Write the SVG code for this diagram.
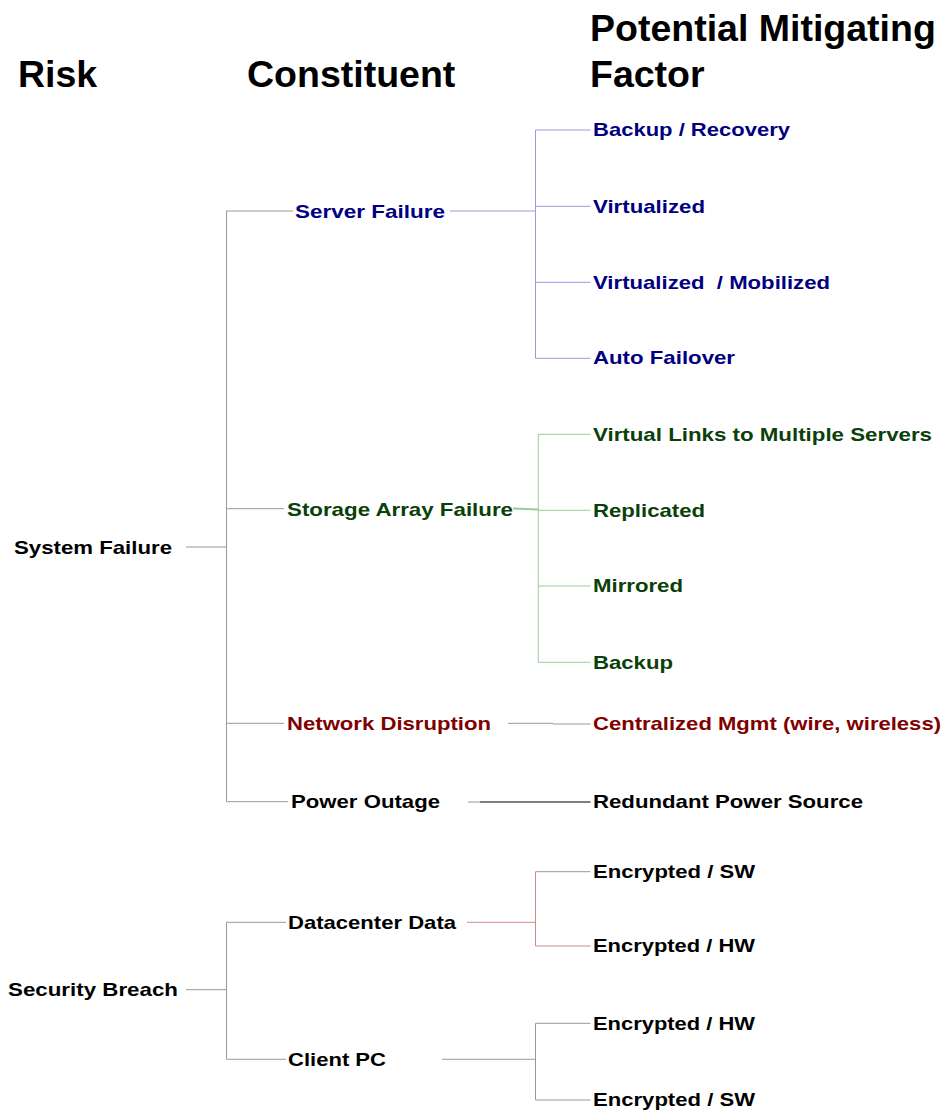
<svg xmlns="http://www.w3.org/2000/svg" width="944" height="1112" viewBox="0 0 944 1112">
<style>
text{font-family:"Liberation Sans",Arial,sans-serif;font-weight:bold;}
.h{font-size:37.5px;fill:#000;}
.n{font-size:18.6px;white-space:pre;}
.blue{fill:#000080;}
.green{fill:#0a400a;}
.red{fill:#800000;}
.black{fill:#000;}
.c line,.c path{fill:none;stroke-width:1;}
.g{stroke:#999999;}
.b{stroke:#9a9ad8;}
.gr{stroke:#99cc99;}
.r{stroke:#cc8a8a;}
.k{stroke:#333333;}
</style>
<rect width="944" height="1112" fill="#ffffff"/>
<g id="headers">
<text class="h" x="18" y="87">Risk</text>
<text class="h" x="247" y="87">Constituent</text>
<text class="h" x="590" y="41">Potential Mitigating</text>
<text class="h" x="590" y="87">Factor</text>
</g>
<g id="connectors" class="c">
<!-- System Failure tree -->
<line class="g" x1="186" y1="547" x2="226.5" y2="547"/>
<line class="g" x1="226.5" y1="211" x2="226.5" y2="801.7"/>
<line class="g" x1="226.5" y1="211" x2="293" y2="211"/>
<line class="g" x1="226.5" y1="508.7" x2="284" y2="508.7"/>
<line class="g" x1="226.5" y1="723.3" x2="284" y2="723.3"/>
<line class="g" x1="226.5" y1="801.7" x2="288" y2="801.7"/>
<!-- Server Failure -->
<line class="b" x1="450" y1="211" x2="535.5" y2="211"/>
<line class="b" x1="535.5" y1="130" x2="535.5" y2="358.3"/>
<line class="b" x1="535.5" y1="130" x2="590.5" y2="130"/>
<line class="b" x1="535.5" y1="206.3" x2="590.5" y2="206.3"/>
<line class="b" x1="535.5" y1="282.3" x2="590.5" y2="282.3"/>
<line class="b" x1="535.5" y1="358.3" x2="590.5" y2="358.3"/>
<!-- Storage -->
<path class="gr" d="M513 508.5 L538.3 509.5" style="stroke-width:2"/>
<line class="gr" x1="538.3" y1="434.3" x2="538.3" y2="662.3"/>
<line class="gr" x1="538.3" y1="434.3" x2="590.5" y2="434.3"/>
<line class="gr" x1="538.3" y1="510.3" x2="590.5" y2="510.3"/>
<line class="gr" x1="538.3" y1="586" x2="590.5" y2="586"/>
<line class="gr" x1="538.3" y1="662.3" x2="590.5" y2="662.3"/>
<!-- Network -->
<path class="g" d="M508 723.3 L553 723.3 L553 724 L590.5 724"/>
<!-- Power -->
<line class="g" x1="468" y1="802" x2="590.5" y2="802"/>
<line class="k" x1="480" y1="802" x2="590.5" y2="802"/>
<!-- Security tree -->
<line class="g" x1="186" y1="989.7" x2="226.5" y2="989.7"/>
<line class="g" x1="226.5" y1="922.3" x2="226.5" y2="1059.3"/>
<line class="g" x1="226.5" y1="922.3" x2="286" y2="922.3"/>
<line class="g" x1="226.5" y1="1059.3" x2="286" y2="1059.3"/>
<!-- Datacenter -->
<line class="r" x1="467" y1="922.3" x2="535.5" y2="922.3"/>
<line class="r" x1="535.5" y1="871.7" x2="535.5" y2="946"/>
<line class="g" x1="535.5" y1="871.7" x2="590.5" y2="871.7"/>
<line class="r" x1="535.5" y1="946" x2="590.5" y2="946"/>
<!-- Client PC -->
<line class="g" x1="442" y1="1059.3" x2="535.5" y2="1059.3"/>
<line class="g" x1="535.5" y1="1023.3" x2="535.5" y2="1100"/>
<line class="g" x1="535.5" y1="1023.3" x2="590.5" y2="1023.3"/>
<line class="g" x1="535.5" y1="1100" x2="590.5" y2="1100"/>
</g>
<g id="risk-system-failure"><text class="n black" x="14" y="553.5" textLength="158" lengthAdjust="spacingAndGlyphs">System Failure</text></g>
<g id="risk-security-breach"><text class="n black" x="8" y="996.2" textLength="170" lengthAdjust="spacingAndGlyphs">Security Breach</text></g>
<g id="c-server-failure"><text class="n blue" x="295" y="217.5" textLength="150" lengthAdjust="spacingAndGlyphs">Server Failure</text></g>
<g id="c-storage"><text class="n green" x="287" y="515.7" textLength="226" lengthAdjust="spacingAndGlyphs">Storage Array Failure</text></g>
<g id="c-network"><text class="n red" x="287" y="729.8" textLength="204" lengthAdjust="spacingAndGlyphs">Network Disruption</text></g>
<g id="c-power"><text class="n black" x="291" y="808.2" textLength="149" lengthAdjust="spacingAndGlyphs">Power Outage</text></g>
<g id="c-datacenter"><text class="n black" x="288" y="928.8" textLength="168" lengthAdjust="spacingAndGlyphs">Datacenter Data</text></g>
<g id="c-client"><text class="n black" x="288" y="1065.8" textLength="98" lengthAdjust="spacingAndGlyphs">Client PC</text></g>
<g id="f-backup-recovery"><text class="n blue" x="593" y="136.3" textLength="197" lengthAdjust="spacingAndGlyphs">Backup / Recovery</text></g>
<g id="f-virtualized"><text class="n blue" x="593" y="212.6" textLength="112" lengthAdjust="spacingAndGlyphs">Virtualized</text></g>
<g id="f-virt-mobil"><text class="n blue" x="593" y="288.6" textLength="237" lengthAdjust="spacingAndGlyphs">Virtualized  / Mobilized</text></g>
<g id="f-auto-failover"><text class="n blue" x="593" y="364" textLength="142" lengthAdjust="spacingAndGlyphs">Auto Failover</text></g>
<g id="f-virtual-links"><text class="n green" x="593" y="440.6" textLength="339" lengthAdjust="spacingAndGlyphs">Virtual Links to Multiple Servers</text></g>
<g id="f-replicated"><text class="n green" x="593" y="516.6" textLength="112" lengthAdjust="spacingAndGlyphs">Replicated</text></g>
<g id="f-mirrored"><text class="n green" x="593" y="592.3" textLength="90" lengthAdjust="spacingAndGlyphs">Mirrored</text></g>
<g id="f-backup"><text class="n green" x="593" y="668.6" textLength="80" lengthAdjust="spacingAndGlyphs">Backup</text></g>
<g id="f-centralized"><text class="n red" x="593" y="729.8" textLength="348" lengthAdjust="spacingAndGlyphs">Centralized Mgmt (wire, wireless)</text></g>
<g id="f-redundant"><text class="n black" x="593" y="808.3" textLength="270" lengthAdjust="spacingAndGlyphs">Redundant Power Source</text></g>
<g id="f-enc-sw-1"><text class="n black" x="593" y="878" textLength="162" lengthAdjust="spacingAndGlyphs">Encrypted / SW</text></g>
<g id="f-enc-hw-1"><text class="n black" x="593" y="952.3" textLength="162" lengthAdjust="spacingAndGlyphs">Encrypted / HW</text></g>
<g id="f-enc-hw-2"><text class="n black" x="593" y="1029.6" textLength="162" lengthAdjust="spacingAndGlyphs">Encrypted / HW</text></g>
<g id="f-enc-sw-2"><text class="n black" x="593" y="1106.3" textLength="162" lengthAdjust="spacingAndGlyphs">Encrypted / SW</text></g>
</svg>
